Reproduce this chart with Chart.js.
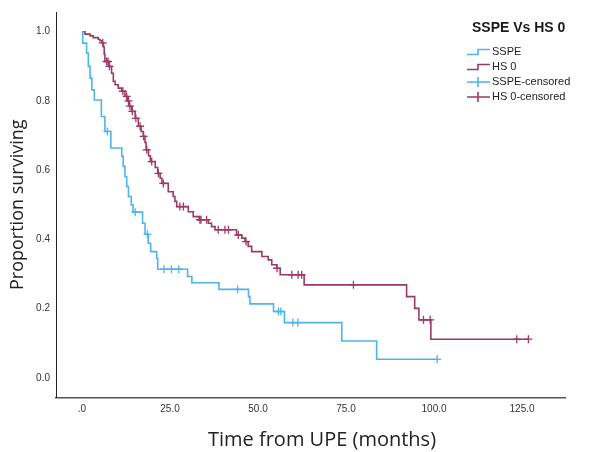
<!DOCTYPE html>
<html><head><meta charset="utf-8">
<script src="https://cdn.jsdelivr.net/npm/chart.js@4.4.1/dist/chart.umd.min.js"></script>
<style>html,body{margin:0;padding:0;background:#fff;}#wrap{width:595px;height:452px;position:relative;}</style>
</head><body><div id="wrap"><canvas id="c" width="595" height="452"></canvas></div>
<script>
// ---- data ----
const sspeTimes = [0, 0.2, 1.3, 1.8, 2.3, 2.8, 3.5, 5.5, 6.5, 8.2, 11.3, 11.7, 12.2, 12.7, 13.2, 14.0, 14.5, 17.2, 17.9, 18.8, 19.5, 21.2, 21.5, 30.0, 31.2, 38.9, 47.3, 47.7, 54.4, 57.5, 73.8, 83.7];
const sspeSurv  = [1.0, 0.967, 0.938, 0.90, 0.866, 0.832, 0.803, 0.755, 0.712, 0.664, 0.64, 0.611, 0.582, 0.553, 0.524, 0.50, 0.479, 0.447, 0.415, 0.389, 0.365, 0.346, 0.314, 0.293, 0.275, 0.256, 0.235, 0.214, 0.192, 0.160, 0.107, 0.054];
const sspeCensored = [7.2, 15.1, 18.6, 23.3, 25.4, 27.5, 44.2, 55.8, 56.5, 59.9, 61.3, 100.9];

const hs0Times = [0, 0.85, 2.3, 3.2, 4.6, 5.1, 5.6, 6.1, 6.3, 6.5, 7.6, 8.4, 8.9, 9.4, 10.3, 11.3, 12.2, 12.9, 13.4, 14.1, 15.1, 16.0, 16.8, 17.4, 17.9, 18.2, 18.9, 19.4, 20.8, 21.5, 22.2, 22.7, 24.5, 25.9, 26.4, 26.9, 30.2, 31.6, 33.3, 35.9, 36.8, 37.8, 43.9, 45.4, 46.3, 47.2, 48.2, 51.1, 52.9, 53.9, 55.3, 56.3, 63.1, 92.2, 94.5, 95.7, 99.1];
const hs0Surv  = [1.0, 0.993, 0.988, 0.983, 0.978, 0.974, 0.968, 0.956, 0.935, 0.914, 0.90, 0.88, 0.857, 0.847, 0.837, 0.828, 0.813, 0.80, 0.785, 0.77, 0.75, 0.727, 0.712, 0.698, 0.68, 0.659, 0.642, 0.625, 0.608, 0.591, 0.577, 0.562, 0.538, 0.524, 0.51, 0.495, 0.48, 0.466, 0.457, 0.447, 0.437, 0.428, 0.413, 0.404, 0.394, 0.38, 0.365, 0.351, 0.341, 0.327, 0.317, 0.298, 0.269, 0.235, 0.201, 0.168, 0.112];
const hs0Censored = [5.9, 7.0, 7.4, 7.8, 11.6, 12.7, 13.2, 13.6, 14.3, 15.3, 16.5, 17.5, 18.4, 19.8, 21.7, 23.1, 27.8, 28.8, 33.5, 33.8, 35.4, 38.7, 40.6, 41.6, 44.4, 46.6, 55.4, 59.6, 61.4, 62.4, 77.1, 97.0, 98.9, 123.5, 126.8];

const xTickValues = [0, 25, 50, 75, 100, 125];
const xTickLabels = ['.0', '25.0', '50.0', '75.0', '100.0', '125.0'];
const yTickValues = [0, 0.2, 0.4, 0.6, 0.8, 1.0];
const yTickLabels = ['0.0', '0.2', '0.4', '0.6', '0.8', '1.0'];
const seriesNames = ['SSPE', 'HS 0', 'SSPE-censored', 'HS 0-censored'];
const legendTitle = 'SSPE Vs HS 0';
const xTitle = 'Time from UPE (months)';
const yTitle = 'Proportion surviving';

// ---- styling ----
const BLUE = '#4fb4ea';
const MAROON = '#9b3a66';

function survAt(times, surv, t) {
  let s = surv[0];
  for (let i = 0; i < times.length; i++) { if (times[i] <= t) s = surv[i]; }
  return s;
}
function curve(times, surv, cens) {
  const pts = times.map((t, i) => ({x: t, y: surv[i]}));
  const lastC = Math.max(...cens);
  if (lastC > times[times.length - 1]) pts.push({x: lastC, y: surv[surv.length - 1]});
  return pts;
}
function censPts(times, surv, cens) {
  return cens.map(t => ({x: t, y: survAt(times, surv, t)}));
}

const legendPlugin = {
  id: 'kmLegend',
  afterDraw(chart) {
    const ctx = chart.ctx;
    ctx.save();
    ctx.fillStyle = '#1a1a1a';
    ctx.font = 'bold 14px "Liberation Sans", Arial, sans-serif';
    ctx.textBaseline = 'middle';
    ctx.textAlign = 'left';
    ctx.fillText(legendTitle, 472, 28);
    const rows = [52, 67, 82, 97];
    const cols = [BLUE, MAROON, BLUE, MAROON];
    ctx.font = '11px "Liberation Sans", Arial, sans-serif';
    rows.forEach((y, i) => {
      ctx.strokeStyle = cols[i];
      ctx.lineWidth = 1.6;
      ctx.beginPath();
      if (i < 2) {
        ctx.moveTo(467, y + 2.5); ctx.lineTo(478, y + 2.5); ctx.lineTo(478, y - 2.5); ctx.lineTo(490, y - 2.5);
      } else {
        ctx.moveTo(467, y); ctx.lineTo(490, y);
        ctx.moveTo(478, y - 5); ctx.lineTo(478, y + 5);
      }
      ctx.stroke();
      ctx.fillStyle = '#222';
      ctx.fillText(seriesNames[i], 492, y);
    });
    // x axis title
    ctx.font = '20px "Open Sans", sans-serif';
    ctx.textAlign = 'center';
    ctx.fillStyle = '#222';
    ctx.fillText(xTitle, 322, 440);
    ctx.restore();
  }
};

new Chart(document.getElementById('c'), {
  type: 'line',
  data: {
    datasets: [
      {label: seriesNames[0], data: curve(sspeTimes, sspeSurv, sspeCensored), stepped: true, borderColor: BLUE, borderWidth: 1.6, pointRadius: 0, fill: false},
      {label: seriesNames[1], data: curve(hs0Times, hs0Surv, hs0Censored), stepped: true, borderColor: MAROON, borderWidth: 1.6, pointRadius: 0, fill: false},
      {label: seriesNames[2], data: censPts(sspeTimes, sspeSurv, sspeCensored), showLine: false, pointStyle: 'cross', pointRadius: 4, pointBorderWidth: 1.3, borderColor: BLUE, backgroundColor: BLUE},
      {label: seriesNames[3], data: censPts(hs0Times, hs0Surv, hs0Censored), showLine: false, pointStyle: 'cross', pointRadius: 4, pointBorderWidth: 1.3, borderColor: MAROON, backgroundColor: MAROON}
    ]
  },
  options: {
    responsive: false,
    animation: false,
    parsing: true,
    layout: {padding: {top: 12, right: 30, left: 0, bottom: 0}},
    plugins: {legend: {display: false}, tooltip: {enabled: false}},
    scales: {
      x: {
        type: 'linear', min: -7.386, max: 137.2,
        grid: {display: false, drawTicks: false},
        border: {display: true, color: '#555', width: 1.5},
        afterBuildTicks: s => { s.ticks = xTickValues.map(v => ({value: v})); },
        afterFit: s => { s.height = 54.5; },
        ticks: {padding: 6, color: '#333', font: {family: '"Liberation Sans", Arial, sans-serif', size: 10},
          maxRotation: 0, autoSkip: false,
          callback: (v) => { const i = xTickValues.indexOf(v); return i >= 0 ? xTickLabels[i] : ''; }}
      },
      y: {
        type: 'linear', min: -0.0563, max: 1.0569,
        grid: {display: false, drawTicks: false},
        border: {display: true, color: '#222', width: 1},
        afterBuildTicks: s => { s.ticks = yTickValues.map(v => ({value: v})); },
        afterFit: s => { s.width = 56; },
        title: {display: true, text: yTitle, color: '#222', font: {family: '"Open Sans", sans-serif', size: 18}, padding: {top: 7, bottom: 0}},
        ticks: {padding: 6, color: '#333', font: {family: '"Liberation Sans", Arial, sans-serif', size: 10}, autoSkip: false,
          callback: (v) => { const i = yTickValues.findIndex(t => Math.abs(t - v) < 1e-9); return i >= 0 ? yTickLabels[i] : ''; }}
      }
    }
  },
  plugins: [legendPlugin]
});
</script></body></html>
